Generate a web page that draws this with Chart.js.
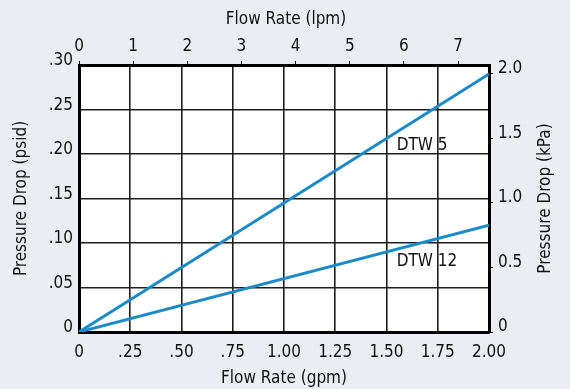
<!DOCTYPE html>
<html>
<head>
<meta charset="utf-8">
<script src="https://cdn.jsdelivr.net/npm/chart.js@4.4.1/dist/chart.umd.min.js"></script>
<style>
    html, body { margin: 0; padding: 0; background: #eaeef2; }
    #wrap { width: 570px; height: 389px; }
</style>
</head>
<body>
<div id="wrap"><canvas id="chart" width="570" height="389"></canvas></div>
<script>
// --- data ---
const flowGpm = [0, 2.00];
const dtw5Psid = [0, 0.29];
const dtw12Psid = [0, 0.12];
const seriesNames = ['DTW 5', 'DTW 12'];
// where the series names sit, in chart units (gpm, psid)
const nameGpm = [1.55, 1.55];
const namePsid = [0.21, 0.079];

// --- axes ---
const gpmTicks = [0, 0.25, 0.5, 0.75, 1.0, 1.25, 1.5, 1.75, 2.0];
const gpmLabels = ['0', '.25', '.50', '.75', '1.00', '1.25', '1.50', '1.75', '2.00'];
const psidTicks = [0, 0.05, 0.10, 0.15, 0.20, 0.25, 0.30];
const psidLabels = ['0', '.05', '.10', '.15', '.20', '.25', '.30'];
const lpmTicks = [0, 1, 2, 3, 4, 5, 6, 7];
const lpmLabels = ['0', '1', '2', '3', '4', '5', '6', '7'];
const kpaTicks = [0, 0.5, 1.0, 1.5, 2.0];
const kpaLabels = ['0', '0.5', '1.0', '1.5', '2.0'];

const LPM_PER_GPM = 3.785;
const KPA_PER_PSI = 6.895;
const GPM_MAX = 2.0;
const PSID_MAX = 0.30;

const FONT = "'Liberation Sans Narrow', 'DejaVu Sans Condensed', 'Roboto', sans-serif";
const LINE_BLUE = '#1b8ac7';
const GRID = '#1e1e1e';

Chart.defaults.font.family = FONT;
Chart.defaults.font.size = 17;
Chart.defaults.color = '#111';

function toPoints(xs, ys) {
    return xs.map((x, i) => ({ x: x, y: ys[i] }));
}

function fixedTicks(values) {
    return function(scale) {
        scale.ticks = values.map(v => ({ value: v }));
    };
}

// fond + titres + noms de séries
const decorPlugin = {
    id: 'decor',
    beforeDraw(chart) {
        const { ctx, chartArea: a } = chart;
        ctx.save();
        ctx.fillStyle = '#eaeef2';
        ctx.fillRect(0, 0, chart.width, chart.height);
        ctx.fillStyle = '#ffffff';
        ctx.fillRect(a.left, a.top, a.right - a.left, a.bottom - a.top);
        ctx.restore();
    },
    afterDatasetsDraw(chart) {
        const { ctx, chartArea: a, scales } = chart;
        ctx.save();
        ctx.font = '17px ' + FONT;
        ctx.fillStyle = '#111';
        ctx.textBaseline = 'middle';

        // series names
        ctx.textAlign = 'left';
        seriesNames.forEach((name, i) => {
            ctx.fillText(name, scales.x.getPixelForValue(nameGpm[i]), scales.y.getPixelForValue(namePsid[i]));
        });

        // axis titles
        const midX = (a.left + a.right) / 2;
        const midY = (a.top + a.bottom) / 2;
        ctx.textAlign = 'center';
        ctx.fillText('Flow Rate (lpm)', midX + 2, 20);
        ctx.fillText('Flow Rate (gpm)', midX, 379);

        ctx.save();
        ctx.translate(22, midY);
        ctx.rotate(-Math.PI / 2);
        ctx.fillText('Pressure Drop (psid)', 0, 0);
        ctx.restore();

        ctx.save();
        ctx.translate(546, midY);
        ctx.rotate(-Math.PI / 2);
        ctx.fillText('Pressure Drop (kPa)', 0, 0);
        ctx.restore();

        ctx.restore();
    }
};

const ctx = document.getElementById('chart').getContext('2d');
const chart = new Chart(ctx, {
    type: 'line',
    data: {
        datasets: [
            {
                label: seriesNames[0],
                data: toPoints(flowGpm, dtw5Psid),
                borderColor: LINE_BLUE,
                borderWidth: 3,
                pointRadius: 0,
                tension: 0,
                xAxisID: 'x',
                yAxisID: 'y'
            },
            {
                label: seriesNames[1],
                data: toPoints(flowGpm, dtw12Psid),
                borderColor: LINE_BLUE,
                borderWidth: 3,
                pointRadius: 0,
                tension: 0,
                xAxisID: 'x',
                yAxisID: 'y'
            }
        ]
    },
    options: {
        responsive: false,
        animation: false,
        layout: { padding: 0 },
        plugins: {
            legend: { display: false },
            tooltip: { enabled: false }
        },
        scales: {
            x: {
                type: 'linear',
                position: 'bottom',
                min: 0,
                max: GPM_MAX,
                afterBuildTicks: fixedTicks(gpmTicks),
                afterFit: (s) => { s.height = 57; },
                grid: { color: GRID, lineWidth: 1.6, drawTicks: false },
                border: { display: true, color: '#000', width: 3 },
                ticks: {
                    padding: 10,
                    maxRotation: 0,
                    autoSkip: false,
                    callback: (v, i) => gpmLabels[i]
                }
            },
            x2: {
                type: 'linear',
                position: 'top',
                min: 0,
                max: GPM_MAX * LPM_PER_GPM,
                afterBuildTicks: fixedTicks(lpmTicks),
                afterFit: (s) => { s.height = 65; },
                grid: { color: GRID, lineWidth: 1, drawOnChartArea: false, drawTicks: true, tickLength: 4 },
                border: { display: true, color: '#000', width: 3 },
                ticks: {
                    padding: 4,
                    maxRotation: 0,
                    autoSkip: false,
                    callback: (v, i) => lpmLabels[i]
                }
            },
            y: {
                type: 'linear',
                position: 'left',
                min: 0,
                max: PSID_MAX,
                afterBuildTicks: fixedTicks(psidTicks),
                afterFit: (s) => { s.width = 79; },
                grid: { color: GRID, lineWidth: 1.6, drawTicks: false },
                border: { display: true, color: '#000', width: 3 },
                ticks: {
                    padding: 6,
                    labelOffset: -4,
                    autoSkip: false,
                    callback: (v, i) => psidLabels[i]
                }
            },
            y2: {
                type: 'linear',
                position: 'right',
                min: 0,
                max: PSID_MAX * KPA_PER_PSI,
                afterBuildTicks: fixedTicks(kpaTicks),
                afterFit: (s) => { s.width = 81; },
                grid: { color: GRID, lineWidth: 1, drawOnChartArea: false, drawTicks: true, tickLength: 4 },
                border: { display: true, color: '#000', width: 3 },
                ticks: {
                    padding: 5,
                    labelOffset: -5,
                    autoSkip: false,
                    callback: (v, i) => kpaLabels[i]
                }
            }
        }
    },
    plugins: [decorPlugin]
});
</script>
</body>
</html>
